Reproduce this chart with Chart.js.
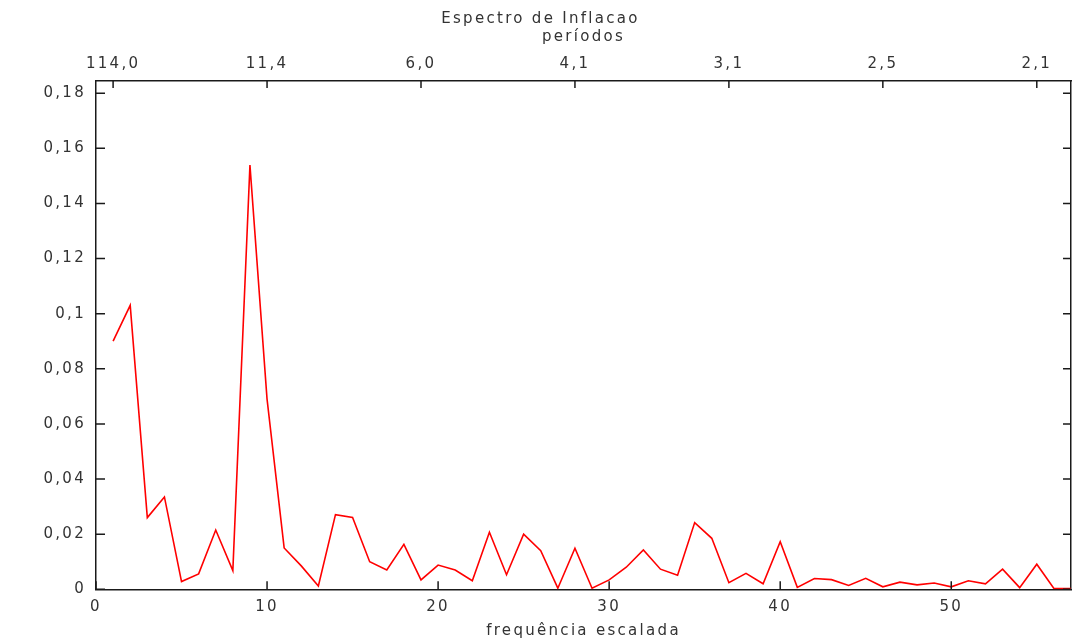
<!DOCTYPE html>
<html>
<head>
<meta charset="utf-8">
<script src="https://cdn.jsdelivr.net/npm/chart.js@4.4.1/dist/chart.umd.min.js"></script>
<style>
  html, body { margin: 0; padding: 0; background: #ffffff; }
  #wrap { width: 1081px; height: 640px; position: relative; }
</style>
</head>
<body>
<div id="wrap"><canvas id="c" width="1081" height="640"></canvas></div>
<script>
// ---- data ----
const frequencies = [1,2,3,4,5,6,7,8,9,10,11,12,13,14,15,16,17,18,19,20,21,22,23,24,25,26,27,28,29,30,31,32,33,34,35,36,37,38,39,40,41,42,43,44,45,46,47,48,49,50,51,52,53,54,55,56,57];
const spectrum = [0.090,0.103,0.026,0.0335,0.0028,0.0056,0.0215,0.0068,0.1539,0.069,
                  0.015,0.0085,0.0012,0.0271,0.0261,0.010,0.007,0.0163,0.0034,0.0088,
                  0.007,0.0031,0.0207,0.0053,0.020,0.014,0.0004,0.0149,0.0004,0.0034,
                  0.008,0.0143,0.0073,0.0051,0.0242,0.0185,0.0024,0.0058,0.002,0.0173,
                  0.0007,0.0039,0.0035,0.0014,0.004,0.0009,0.0026,0.0016,0.0023,0.0009,
                  0.0031,0.002,0.0073,0.0006,0.0091,0.0003,0.0003];
const xTicks = [0,10,20,30,40,50];
const yTicks = [0,0.02,0.04,0.06,0.08,0.10,0.12,0.14,0.16,0.18];
const periodTickPositions = [1,10,19,28,37,46,55];
const periodTickLabels = ['114,0','11,4','6,0','4,1','3,1','2,5','2,1'];
const chartTitle = 'Espectro de Inflacao';
const topAxisTitle = 'períodos';
const bottomAxisTitle = 'frequência escalada';

const X_MIN = 0, X_MAX = 57, Y_MIN = 0, Y_MAX = 0.1844;
const LETTER_SPACING = '2.3px';

const fmt = v => String(Math.round(v * 100) / 100).replace('.', ',');

Chart.defaults.font.family = '"DejaVu Sans", Verdana, sans-serif';
Chart.defaults.font.size = 15;
Chart.defaults.color = '#333333';

const wideText = {
  id: 'wideText',
  afterInit(chart) { chart.ctx.letterSpacing = LETTER_SPACING; },
  beforeUpdate(chart) { chart.ctx.letterSpacing = LETTER_SPACING; },
  beforeDraw(chart) { chart.ctx.letterSpacing = LETTER_SPACING; }
};

const inwardTicks = {
  id: 'inwardTicks',
  afterDraw(chart) {
    const { ctx, chartArea: a, scales } = chart;
    ctx.save();
    ctx.strokeStyle = '#1a1a1a';
    ctx.lineWidth = 1.5;
    ctx.beginPath();
    scales.x.ticks.forEach(t => {
      const p = scales.x.getPixelForValue(t.value);
      ctx.moveTo(p, a.bottom); ctx.lineTo(p, a.bottom - 8);
    });
    scales.x2.ticks.forEach(t => {
      const p = scales.x2.getPixelForValue(t.value);
      ctx.moveTo(p, a.top); ctx.lineTo(p, a.top + 7);
    });
    scales.y.ticks.forEach(t => {
      const p = scales.y.getPixelForValue(t.value);
      ctx.moveTo(a.left, p); ctx.lineTo(a.left + 9, p);
      ctx.moveTo(a.right, p); ctx.lineTo(a.right - 8, p);
    });
    ctx.stroke();
    ctx.restore();
  }
};

const borderOpt = { display: true, color: '#1a1a1a', width: 1.5 };
const noGrid = { display: false, drawTicks: false, drawOnChartArea: false };

new Chart(document.getElementById('c'), {
  type: 'line',
  data: {
    datasets: [{
      label: 'Espectro',
      data: frequencies.map((f, i) => ({ x: f, y: spectrum[i] })),
      borderColor: '#ff0000',
      borderWidth: 1.6,
      pointRadius: 0,
      tension: 0,
      fill: false,
      xAxisID: 'x',
      yAxisID: 'y'
    }]
  },
  options: {
    responsive: false,
    animation: false,
    layout: { padding: 0 },
    plugins: {
      legend: { display: false },
      tooltip: { enabled: false },
      title: {
        display: true,
        text: chartTitle,
        color: '#333333',
        font: { size: 15, weight: 'normal' },
        padding: { top: 10, bottom: 0 }
      }
    },
    scales: {
      x: {
        type: 'linear',
        position: 'bottom',
        min: X_MIN, max: X_MAX,
        grid: noGrid,
        border: borderOpt,
        afterBuildTicks: s => { s.ticks = xTicks.map(v => ({ value: v })); },
        ticks: { padding: 8.4, maxRotation: 0, autoSkip: false, callback: v => String(v) },
        title: { display: true, text: bottomAxisTitle, padding: { top: 0, bottom: 0 } },
        afterFit: s => { s.height = 50.7; }
      },
      x2: {
        type: 'linear',
        position: 'top',
        min: X_MIN, max: X_MAX,
        grid: noGrid,
        border: borderOpt,
        afterBuildTicks: s => { s.ticks = periodTickPositions.map(v => ({ value: v })); },
        ticks: {
          padding: 7.5, maxRotation: 0, autoSkip: false,
          callback: v => periodTickLabels[periodTickPositions.indexOf(v)]
        },
        title: { display: true, text: topAxisTitle, padding: { top: 0, bottom: 0 } },
        afterFit: s => { s.height = 81 - 28; }
      },
      y: {
        type: 'linear',
        position: 'left',
        min: Y_MIN, max: Y_MAX,
        grid: noGrid,
        border: borderOpt,
        afterBuildTicks: s => { s.ticks = yTicks.map(v => ({ value: v })); },
        ticks: { padding: 10, autoSkip: false, callback: v => fmt(v) },
        afterFit: s => { s.width = 96; }
      },
      y2: {
        type: 'linear',
        position: 'right',
        min: Y_MIN, max: Y_MAX,
        grid: noGrid,
        border: borderOpt,
        ticks: { display: false },
        afterFit: s => { s.width = 10; }
      }
    }
  },
  plugins: [wideText, inwardTicks]
});
</script>
</body>
</html>
